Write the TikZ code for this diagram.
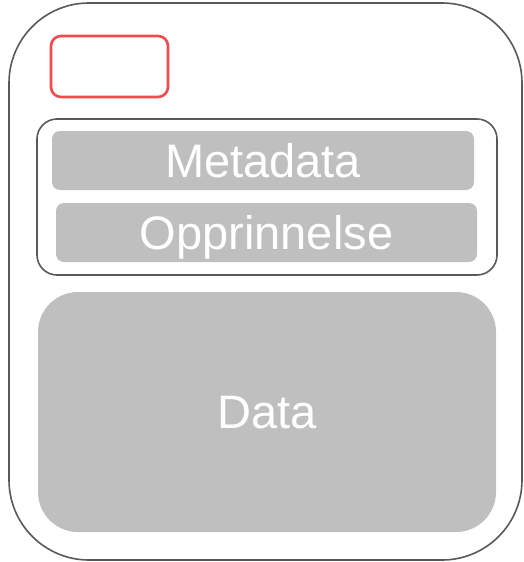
\documentclass[tikz,border=0pt]{standalone}
\usepackage{fontspec}
\setmainfont{Liberation Sans}
\usetikzlibrary{positioning}
\definecolor{rimgray}{HTML}{595959}
\definecolor{boxgray}{HTML}{BFBFBF}
\definecolor{tagred}{HTML}{F24A4F}
\tikzstyle{outerbox}=[rectangle, rounded corners=80pt, draw=rimgray, line width=1.6pt,
                    inner sep=0pt, outer sep=0pt]
\tikzstyle{tagbox}=[rectangle, rounded corners=10pt, draw=tagred, line width=2.6pt,
                    inner sep=0pt, outer sep=0pt, minimum width=117pt, minimum height=61pt]
\tikzstyle{grpbox}=[rectangle, rounded corners=20pt, draw=rimgray, line width=1.6pt,
                    inner sep=0pt, outer sep=0pt]
\tikzstyle{gbox}=[rectangle, rounded corners=8pt, fill=boxgray, text=white, text depth=0pt,
                    inner sep=0pt, outer sep=0pt, font=\fontsize{47}{47}\selectfont]

\begin{document}
\begin{tikzpicture}[x=1pt, y=-1pt]
\useasboundingbox (0,0) rectangle (523,562);

\node (OUTER) [outerbox, minimum width=513pt, minimum height=557pt] at (265.5,281.5) {};
\node (TAG) [tagbox] at (109.5,66.5) {};
\node (GRP) [grpbox, minimum width=460pt, minimum height=156pt] at (267,197) {};
\node (META) [gbox, minimum width=422pt, minimum height=59pt] at (263,160.5) {Metadata};
\node (OPPR) [gbox, minimum width=421pt, minimum height=59pt] at (266.5,232.5) {Opprinnelse};
\node (DATA) [gbox, rounded corners=40pt, minimum width=458pt, minimum height=240pt]
  at (267,412) {Data};

\end{tikzpicture}
\end{document}
